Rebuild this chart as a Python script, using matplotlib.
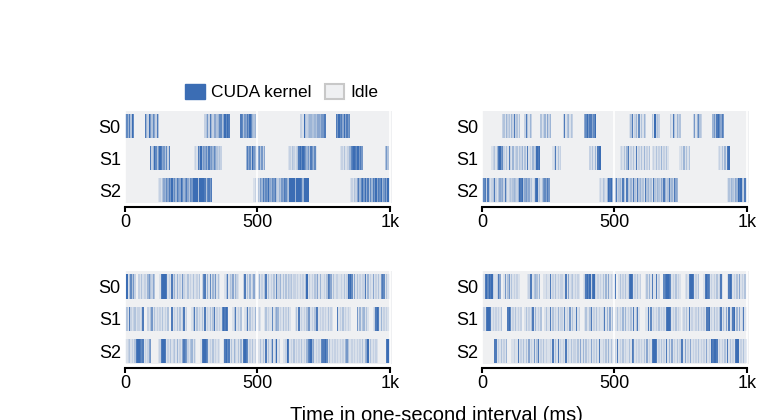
import matplotlib
matplotlib.use("Agg")
import matplotlib.pyplot as plt
from matplotlib.patches import Patch

plt.rcParams['font.family'] = ['Liberation Sans', 'DejaVu Sans']

# one character = one 5 ms slot, '.' = idle, '1'..'9' = kernel activity
BIN_MS = 5
streams = ["S0", "S1", "S2"]
xticks = [0, 500, 1000]
xticklabels = ["0", "500", "1k"]

# top-left panel: (start ms, activity pattern)
tl_s0 = [(0, "9748397"), (75, "84296375283"), (300, "2362842553477359798"),
         (435, "873658697434"), (660, "22193234433435546688"), (795, "86978595867")]
tl_s1 = [(95, "824973698563728"), (260, "121859465748564753232"), (455, "485739648573625"),
         (615, "1213212389798646386471"), (812, "12131224789879686"), (980, "363")]
tl_s2 = [(125, "12135475869574865974685376999939999837868"),
         (485, "121326485769547683243658743999949999849999"),
         (850, "121325847969583748695879468597")]

# top-right panel
tr_s0 = [(75, "23142314282313"), (160, "283142"), (220, "31241524"), (305, "28134132"),
         (385, "579688579"), (555, "1381241713142"), (640, "319232"), (710, "21831423"),
         (795, "2614732"), (870, "463897586")]
tr_s1 = [(35, "123148967"), (80, "2131821412313241318121423989"), (265, "1281312"),
         (405, "213141899"), (520, "12131481213181213141213"), (640, "1213121412131"),
         (745, "12141313"), (890, "121314189")]
tr_s2 = [(0, "878283123821354528312323432498935645231289231367586"),
         (440, "121321498942382342831832428328342318342318324325384238342854"),
         (925, "132432549893287")]

# bottom-left panel
bl_s0 = [(0, "".join(["29137362..", "2131221463", "253...1899", "9812182414", "1216211312",
                      "1311213.27", "8141714261", "31...13813", "251421...2", "8131412511",
                      "1412138131", "2131722413", "1313231221", "2121213912", "1213251411",
                      "2138751312", "2112131298", "9715131212", "2814121512", "1316871313"]))]
bl_s1 = [(0, "".join(["1318212312", "2128...213", "6131212131", "213..81213", "1312812...",
                      "1381312131", "8121313812", "12179898..", ".1381213..", "1281312141",
                      "121..13121", "1713541213", "12131...13", "1812121366", "1213881212",
                      "1213121...", "8121312121", "1....61413", "4131...128", "9814121211"]))]
bl_s2 = [(0, "".join(["2123121389", "9878121256", ".....12899", "8121312314", "1215876213",
                      "4131...189", "9871213121", "21..189781", "3142131418", "9871213121",
                      "1131318131", "3813912..1", "1298121312", "1213121478", "9451212178",
                      "8971312121", "2121214631", "1212121213", "1459131212", "1......898"]))]

# bottom-right panel
br_s0 = [(0, "".join(["1189798921", "1285..1613", "613121211.", "....128813", "4314..1121",
                      "1812131212", "2118151231", "2121..1289", "7928921212", "1314151213",
                      "8..1312131", "2898121312", "...1314181", "1812...789", "9871213121",
                      "...1218998", "1213...189", "8712121312", "81...18981", "2131512131"]))]
br_s1 = [(0, "".join(["1218998121", "21213....8", "9712131212", "..13121381", "41213..131",
                      "1813121412", "2171216131", "1812...131", "1381213121", "1281415131",
                      "1131214141", "213181381.", "...1181712", "1213121218", "9981213121",
                      ".121318121", "1213121218", "8912131213", "8131518128", "9141512813"]))]
br_s2 = [(0, "".join([".........8", "812131214.", "..11211812", "1313151216", "1381213121",
                      "1218131812", "1218121312", "2131514131", "2151213181", "1213141315",
                      "2181213121", "1318712121", "2131512189", "9812131218", "1415121312",
                      "8815121512", "1213121215", "1219899812", "1213181312", "1899121318"]))]

KERNEL = "#3b6db4"
IDLE = "#eff0f2"

panels = [
    ([0.1623, 0.5167, 0.3468, 0.2190], [tl_s0, tl_s1, tl_s2]),
    ([0.6260, 0.5167, 0.3468, 0.2190], [tr_s0, tr_s1, tr_s2]),
    ([0.1623, 0.1333, 0.3468, 0.2214], [bl_s0, bl_s1, bl_s2]),
    ([0.6260, 0.1333, 0.3468, 0.2214], [br_s0, br_s1, br_s2]),
]

fig = plt.figure(figsize=(7.7, 4.2), dpi=100)

for rect, rows in panels:
    ax = fig.add_axes(rect)
    ax.set_facecolor(IDLE)
    # spine position first: moving it resets the ticks
    for s in ["top", "right", "left"]:
        ax.spines[s].set_visible(False)
    ax.spines["bottom"].set_position(("outward", 3))
    ax.spines["bottom"].set_bounds(0, 1000)
    ax.spines["bottom"].set_linewidth(1.5)

    for r, bursts in enumerate(rows):
        lefts, cols = [], []
        for start, pattern in bursts:
            for k, ch in enumerate(pattern):
                t = start + k * BIN_MS
                if ch == "." or t >= 1000:
                    continue
                a = 0.12 + (int(ch) - 1) * 0.11
                lefts.append(t)
                cols.append(matplotlib.colors.to_rgba(KERNEL, a))
        ax.barh(r, BIN_MS, left=lefts, height=0.76, color=cols,
                linewidth=0, antialiased=False, zorder=1)
    ax.set_xlim(0, 1008)
    ax.set_ylim(2.4, -0.48)
    ax.set_yticks(range(len(streams)))
    ax.set_yticklabels(streams)
    ax.set_xticks(xticks)
    ax.set_xticklabels(xticklabels)
    ax.tick_params(axis="y", length=0, pad=3, labelsize=13)
    ax.tick_params(axis="x", length=3.6, width=1.5, pad=1.5, labelsize=13)
    ax.grid(axis="x", color="white", linewidth=1.2, zorder=2)
    ax.set_axisbelow(False)

handles = [Patch(facecolor=KERNEL, edgecolor=KERNEL, label="CUDA kernel"),
           Patch(facecolor=IDLE, edgecolor="#c8c8c8", linewidth=1.5, label="Idle")]
fig.legend(handles=handles, loc="center", bbox_to_anchor=(0.366, 0.781), ncol=2,
           frameon=False, fontsize=12.5, handlelength=1.1, handleheight=1.0,
           handletextpad=0.35, columnspacing=0.8, borderpad=0)

fig.text(0.567, -0.003, "Time in one-second interval (ms)", ha="center", va="baseline",
         fontsize=14.5)

fig.savefig("out.png", dpi=100)
